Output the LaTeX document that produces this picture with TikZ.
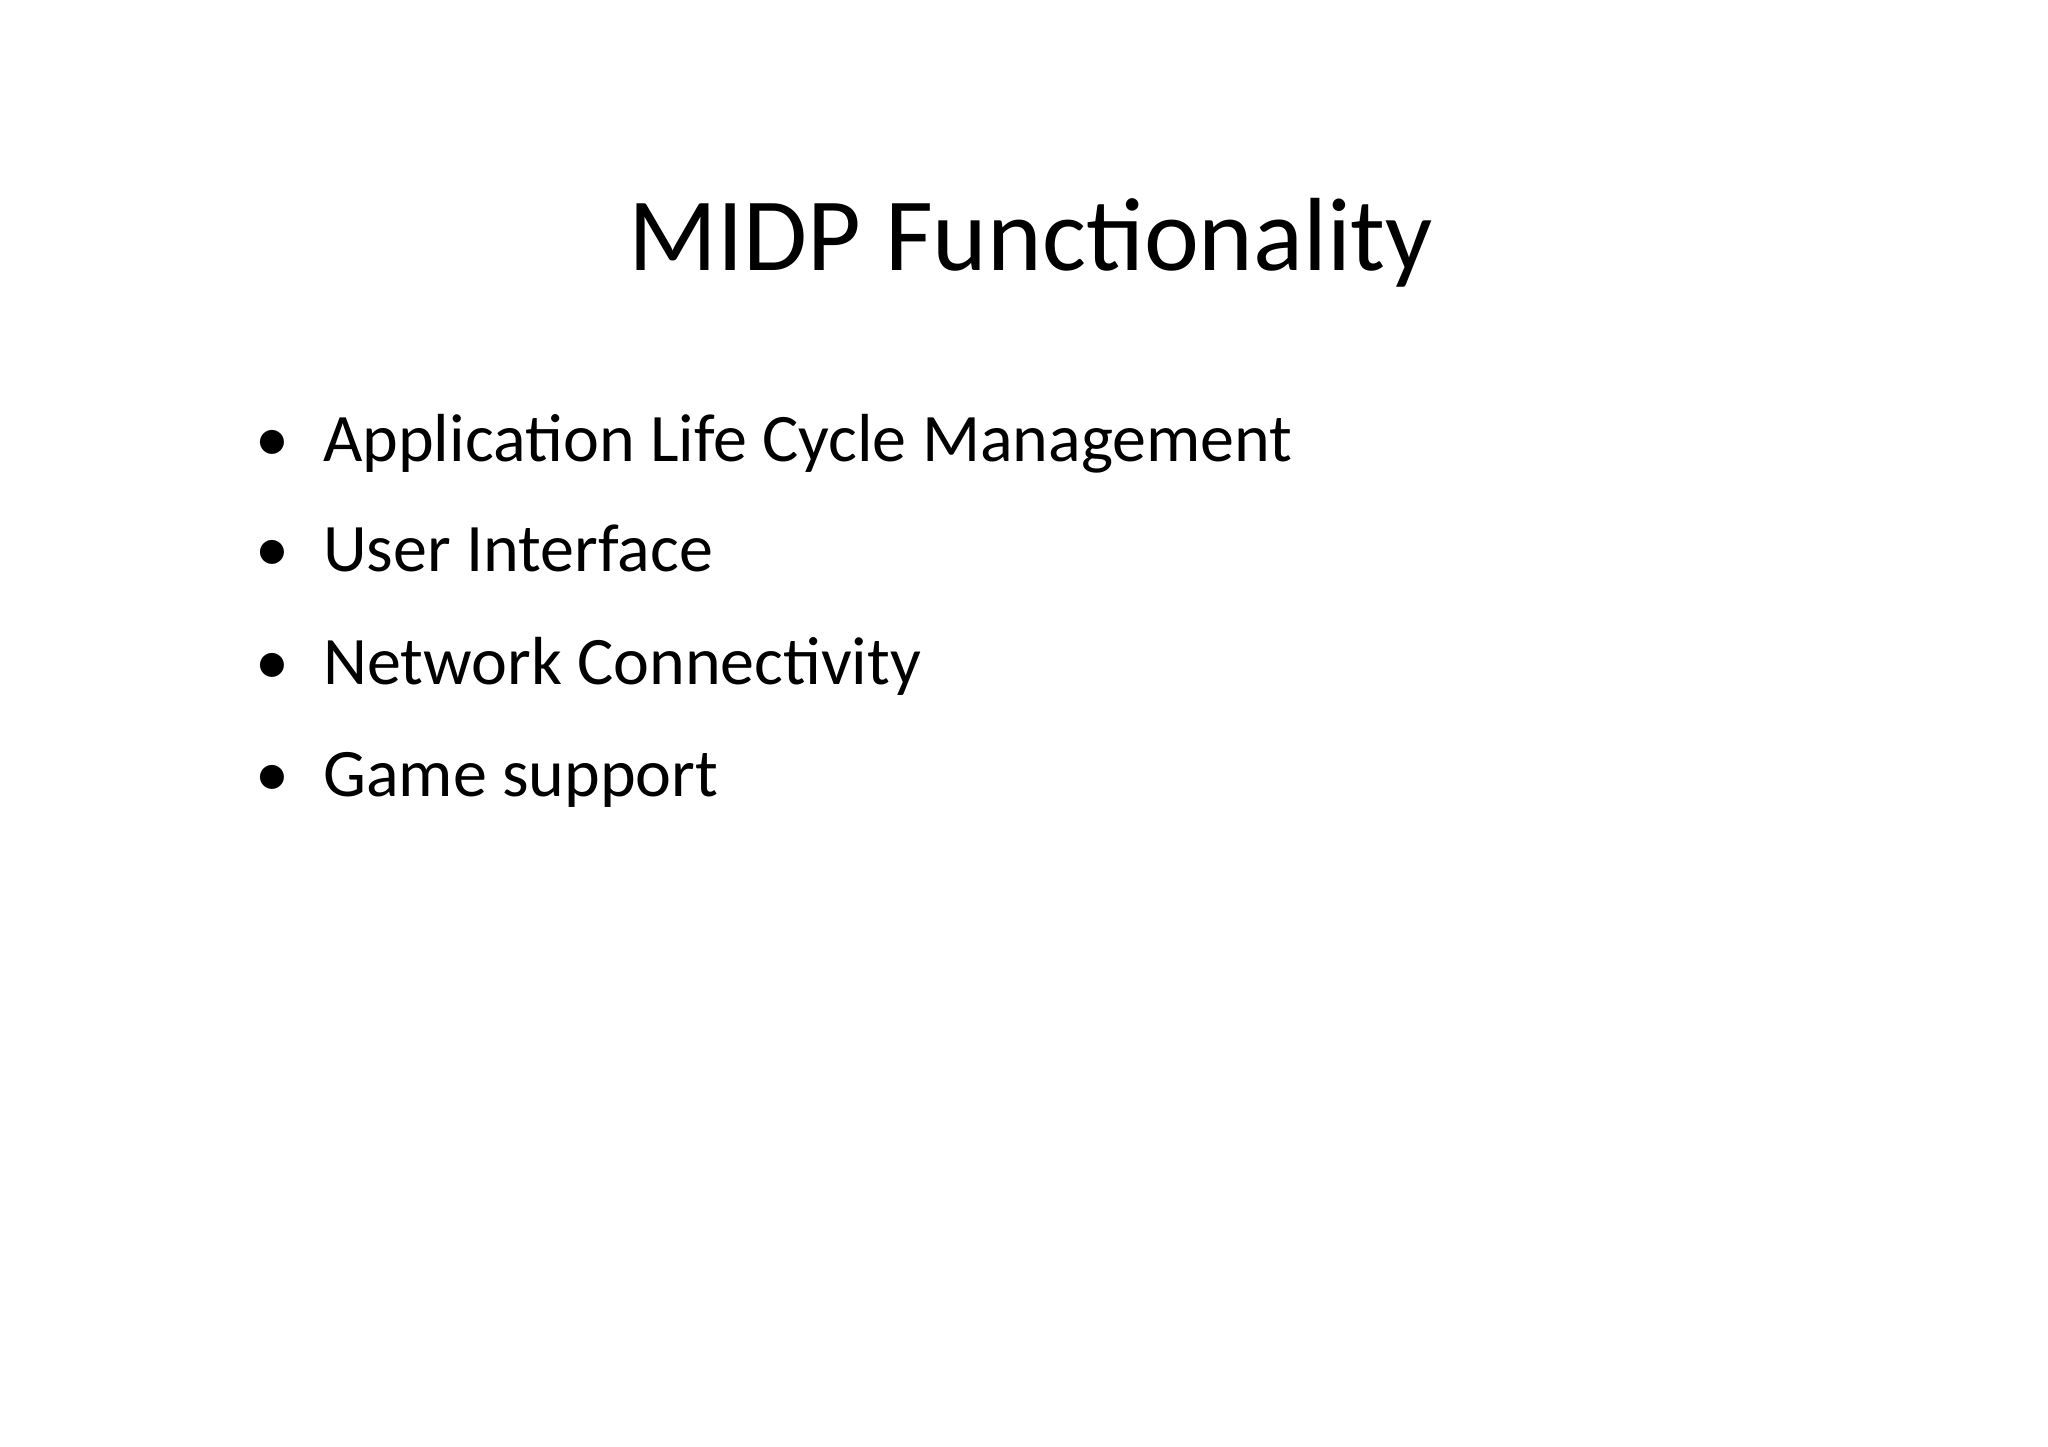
\documentclass[tikz,border=0pt]{standalone}
\usepackage{fontspec}
\setmainfont{Carlito}
\begin{document}
\begin{tikzpicture}[x=1pt,y=-1pt,
  title/.style={anchor=base,inner sep=0pt,font=\fontsize{104}{110}\selectfont},
  item/.style={anchor=base west,inner sep=0pt,font=\fontsize{68}{72}\selectfont}]
\useasboundingbox[fill=white] (0,0) rectangle (2048,1447);
\node[title] (t) at (1031,271) {MIDP Functionality};
\foreach \y/\txt/\n in {461/Application Life Cycle Management/a,571/User Interface/b,684/Network Connectivity/c,796/Game support/d}{
  \node[item] (\n) at (323,\y) {\txt};
  \node[item] (\n b) at (255,\y) {•};
}
\end{tikzpicture}
\end{document}
